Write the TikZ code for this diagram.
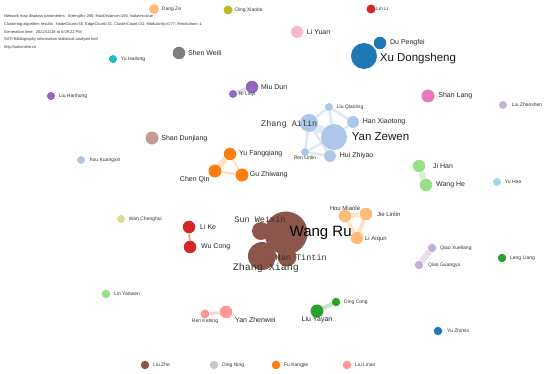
\documentclass[tikz,border=0pt]{standalone}
\usepackage{fontspec}
\setmainfont{Liberation Sans}
\newfontfamily\hwfont{Liberation Mono}
\usetikzlibrary{backgrounds}

\definecolor{cblue}{HTML}{1F77B4}
\definecolor{clblue}{HTML}{AEC7E8}
\definecolor{corange}{HTML}{FF7F0E}
\definecolor{clorange}{HTML}{FFBB78}
\definecolor{cgreen}{HTML}{2CA02C}
\definecolor{clgreen}{HTML}{98DF8A}
\definecolor{cred}{HTML}{D62728}
\definecolor{clred}{HTML}{FF9896}
\definecolor{cpurple}{HTML}{9467BD}
\definecolor{clpurple}{HTML}{C5B0D5}
\definecolor{cbrown}{HTML}{8C564B}
\definecolor{clbrown}{HTML}{C49C94}
\definecolor{cpink}{HTML}{E377C2}
\definecolor{clpink}{HTML}{F7B6D2}
\definecolor{cgray}{HTML}{7F7F7F}
\definecolor{clgray}{HTML}{C7C7C7}
\definecolor{colive}{HTML}{BCBD22}
\definecolor{clolive}{HTML}{DBDB8D}
\definecolor{ccyan}{HTML}{17BECF}
\definecolor{clcyan}{HTML}{9EDAE5}

\tikzset{
  bub/.style={circle, inner sep=0pt, minimum size=#1},
  hdr/.style={font=\fontsize{4}{5}\selectfont, text=black!80, anchor=west, inner sep=0pt},
  sm/.style={font=\fontsize{5}{6}\selectfont, text=black!80, inner sep=0.5pt},
  md/.style={font=\fontsize{7}{8}\selectfont, text=black!85, inner sep=0.5pt},
  lg/.style={font=\fontsize{11.5}{13}\selectfont, text=black!90, inner sep=0.5pt},
  hw/.style={font=\hwfont\fontsize{#1}{12}\selectfont, text=black!80, inner sep=0.5pt},
  lnk/.style={line width=#1, opacity=0.4},
}

\begin{document}
\begin{tikzpicture}[x=1pt, y=-1pt]
    \useasboundingbox (0,0) rectangle (550,374);

    % Header
    \node[hdr] (hdr1) at (4,16) {Network map displays parameters:\ \ Strength=-265; MaxDistance=156; Isolates=true};
    \node[hdr] (hdr2) at (4,24) {Clustering algorithm results:\ \ NodeCount=55; EdgeCount=31; ClusterCount=31; Modularity=0.77; Resolution= 1};
    \node[hdr] (hdr3) at (4,32) {Generation time:\ \ 2022/11/28 at 6:09:22 PM};
    \node[hdr] (hdr4) at (4,39) {SATI-Bibliography information statistical analysis tool};
    \node[hdr] (hdr5) at (4,47) {http://sationline.cn};

    % Top row
    \node[bub=10, fill=clorange, label={[sm,xshift=2pt]right:Dang Ze}] (dz) at (154,9) {};
    \node[bub=9, fill=colive, label={[sm,xshift=2pt]right:Ding Xiaobo}] (dx) at (228,10) {};
    \node[bub=9, fill=cred, label={[sm,xshift=0pt]right:Lin Li}] (ll) at (371,9) {};
    \node[bub=12, fill=clpink, label={[md,xshift=3pt]right:Li Yuan}] (ly) at (297,32) {};
    \node[bub=12.5, fill=cblue, label={[md,xshift=3pt]right:Du Pengfei}] (dp) at (380,43) {};
    \node[bub=26, fill=cblue, label={[lg,xshift=2pt,yshift=-3pt]right:Xu Dongsheng}] (xd) at (364,56) {};
    \node[bub=12.5, fill=cgray, label={[md,xshift=2pt]right:Shen Weili}] (sw) at (179,53) {};
    \node[bub=8, fill=ccyan, label={[sm,xshift=3pt]right:Yu Hailong}] (yh) at (113,59) {};

    % Purple pair and singles
    \node[bub=12.5, fill=cpurple, label={[md,xshift=2pt]right:Miu Dun}] (md) at (252,87) {};
    \node[bub=8, fill=cpurple, label={[sm,xshift=1pt]right:Ni Laiyi}] (nl) at (233,94) {};
    \node[bub=8, fill=cpurple, label={[sm,xshift=3pt]right:Liu Hanhong}] (lh) at (51,96) {};
    \node[bub=13, fill=cpink, label={[md,xshift=3pt]right:Shan Lang}] (sl) at (428,96) {};
    \node[bub=8, fill=clpurple, label={[sm,xshift=4pt]right:Liu Zhanshen}] (lz) at (503,105) {};

    % Yan Zewen cluster
    \node[bub=8, fill=clblue, label={[sm,xshift=3pt]right:Liu Qiaoling}] (lq) at (329,107) {};
    \node[bub=12, fill=clblue, label={[md,xshift=3pt]right:Han Xiaotong}] (hx) at (353,122) {};
    \node[bub=18, fill=clblue] (za) at (309,123) {};
    \node[bub=26, fill=clblue, label={[lg,xshift=4pt]right:Yan Zewen}] (yz) at (334,137) {};
    \node[bub=12, fill=clblue, label={[md,xshift=3pt]right:Hui Zhiyao}] (hz) at (330,156) {};
    \node[bub=8, fill=clblue, label={[sm,yshift=1pt]below:Ren Linlin}] (rl) at (305,152) {};
    \node[hw=8.5, anchor=east] (zal) at (318,124) {Zhang Ailin};

    % Middle left
    \node[bub=13, fill=clbrown, label={[md,xshift=2pt,yshift=-1pt]right:Shan Dunjiang}] (sd) at (152,138) {};
    \node[bub=8, fill=clblue, label={[sm,xshift=4pt]right:hou Kuangxin}] (hk) at (81,160) {};

    % Orange cluster
    \node[bub=12.5, fill=corange, label={[md,xshift=2pt]right:Yu Fangqiang}] (yf) at (230,154) {};
    \node[bub=13, fill=corange, label={[md]below left:Chen Qin}] (cq) at (215,171) {};
    \node[bub=13, fill=corange, label={[md,xshift=0.5pt]right:Gu Zhiwang}] (gz) at (242,175) {};

    % Green pair and singles on the right
    \node[bub=12.5, fill=clgreen, label={[md,xshift=7pt]right:Ji Han}] (jh) at (419,166) {};
    \node[bub=12.5, fill=clgreen, label={[md,xshift=3pt]right:Wang He}] (wh) at (426,185) {};
    \node[bub=8, fill=clcyan, label={[sm,xshift=3pt]right:Yu Hao}] (yhao) at (497,182) {};

    % Red pair
    \node[bub=8, fill=clolive, label={[sm,xshift=3pt]right:Wan Chenghui}] (wc) at (121,219) {};
    \node[bub=12.5, fill=cred, label={[md,xshift=4pt]right:Li Ke}] (lk) at (189,227) {};
    \node[bub=12.5, fill=cred, label={[md,xshift=4pt]right:Wu Cong}] (wcong) at (190,247) {};

    % Wang Ru cluster
    \node[bub=43, fill=cbrown] (wr) at (286,233) {};
    \node[bub=18, fill=cbrown] (sx) at (261,231) {};
    \node[bub=28, fill=cbrown] (zx) at (262,256) {};
    \node[bub=19, fill=cbrown] (ht) at (287,257) {};
    \node[hw=8.5] (sxl) at (260,219) {Sun Weixin};
    \node[hw=10] (zxl) at (266,268) {Zhang Xiang};
    \node[hw=8.5, anchor=west] (htl) at (275,257) {Han Tintin};
    \node[font=\fontsize{15}{17}\selectfont, inner sep=0.5pt, anchor=west] (wrl) at (289,233) {Wang Ru};

    % Hou Miaole cluster
    \node[bub=12.5, fill=clorange, label={[sm,font=\fontsize{6}{7}\selectfont,yshift=-2pt]above:Hou Miaole}] (hm) at (345,216) {};
    \node[bub=12.5, fill=clorange, label={[sm,font=\fontsize{6}{7}\selectfont,xshift=4pt]right:Jie Linlin}] (jl) at (366,214) {};
    \node[bub=12.5, fill=clorange, label={[sm,font=\fontsize{6}{7}\selectfont,xshift=1pt,yshift=-1pt]right:Li Aiqun}] (la) at (357,238) {};

    % Purple pair and green single
    \node[bub=8.5, fill=clpurple, label={[sm,xshift=3pt]right:Qiao Xueliang}] (qx) at (432,248) {};
    \node[bub=8.5, fill=clpurple, label={[sm,xshift=4pt]right:Qiao Guangyu}] (qg) at (419,265) {};
    \node[bub=8.5, fill=cgreen, label={[sm,xshift=3pt]right:Leng Liang}] (lliang) at (502,258) {};

    % Lower part
    \node[bub=8.5, fill=clgreen, label={[sm,xshift=3pt]right:Lin Yanwen}] (lyw) at (106,294) {};
    \node[bub=9, fill=clred, label={[sm,yshift=1pt]below:Ren Kebing}] (rk) at (205,314) {};
    \node[bub=12.5, fill=clred, label={[md,xshift=2pt,yshift=-8pt]right:Yan Zhenwei}] (yzw) at (226,312) {};
    \node[bub=13, fill=cgreen, label={[md,yshift=2pt]below:Liu Yayan}] (lyy) at (317,311) {};
    \node[bub=8.5, fill=cgreen, label={[sm,xshift=3pt]right:Ding Cong}] (dc) at (336,302) {};
    \node[bub=8.5, fill=cblue, label={[sm,xshift=4pt]right:Yu Zhimin}] (yzm) at (438,331) {};

    % Bottom row
    \node[bub=8.5, fill=cbrown, label={[sm,xshift=3pt]right:Liu Zhe}] (lzhe) at (145,365) {};
    \node[bub=8.5, fill=clgray, label={[sm,xshift=3pt]right:Ding Ning}] (dn) at (214,365) {};
    \node[bub=8.5, fill=corange, label={[sm,xshift=3pt]right:Fu Kangjie}] (fk) at (276,365) {};
    \node[bub=8.5, fill=clred, label={[sm,xshift=3pt]right:Liu Linan}] (lln) at (347,365) {};

    % Links
    \begin{scope}[on background layer]
      \draw[lnk=4, cpurple!70] (md) -- (nl);
      \draw[lnk=8, clblue] (za) -- (yz);
      \draw[lnk=2.5, clblue] (za) -- (lq);
      \draw[lnk=2.5, clblue] (lq) -- (yz);
      \draw[lnk=2.5, clblue] (lq) -- (hx);
      \draw[lnk=3, clblue] (hx) -- (yz);
      \draw[lnk=3, clblue] (yz) -- (hz);
      \draw[lnk=2.5, clblue] (za) -- (rl);
      \draw[lnk=2.5, clblue] (za) -- (hz);
      \draw[lnk=2.5, clblue] (rl) -- (yz);
      \draw[lnk=2.5, clblue] (rl) -- (hz);
      \draw[lnk=6, corange!60] (yf) -- (cq);
      \draw[lnk=2.5, corange!60] (cq) -- (gz);
      \draw[lnk=1.5, corange!70] (yf) -- (gz);
      \draw[lnk=6, clgreen] (jh) -- (wh);
      \draw[lnk=2, cred] (lk) -- (wcong);
      \draw[lnk=4, cbrown] (sx) -- (wr);
      \draw[lnk=4, cbrown] (zx) -- (wr);
      \draw[lnk=4, cbrown] (ht) -- (wr);
      \draw[lnk=5, clorange] (hm) -- (jl);
      \draw[lnk=4, clorange] (hm) -- (la);
      \draw[lnk=4, clorange] (jl) -- (la);
      \draw[lnk=6, clpurple] (qx) -- (qg);
      \draw[lnk=3, clred] (rk) -- (yzw);
      \draw[lnk=4, cgreen!70] (lyy) -- (dc);
    \end{scope}
\end{tikzpicture}
\end{document}
